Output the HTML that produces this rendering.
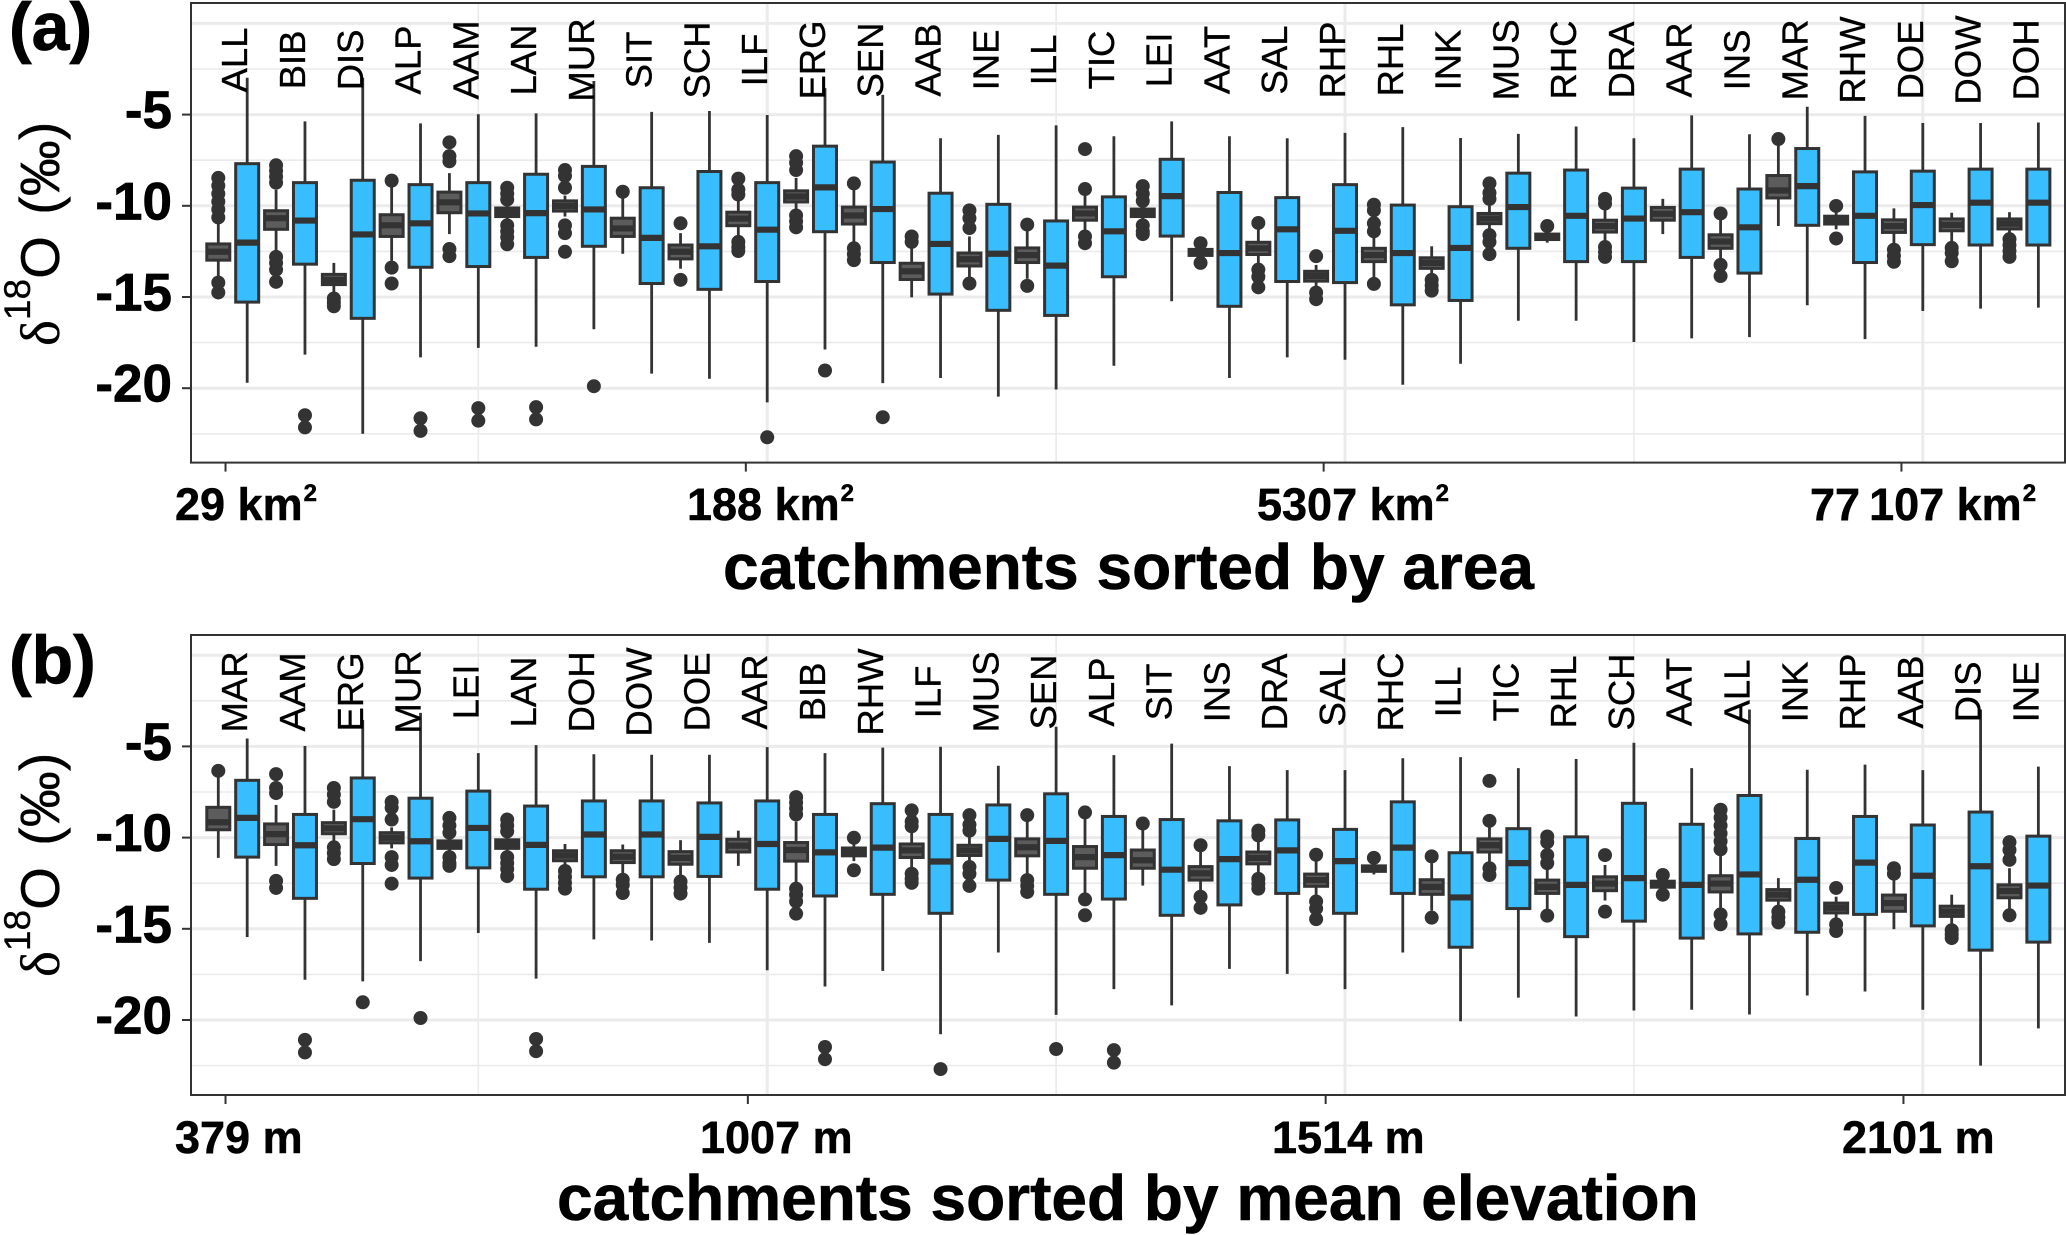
<!DOCTYPE html>
<html lang="en">
<head>
<meta charset="utf-8">
<title>Catchment isotope boxplots</title>
<style>
html,body{margin:0;padding:0;background:#fff;}
svg{display:block;}
text{font-family:"Liberation Sans",sans-serif;fill:#000;}
.tick-label{font-weight:700;font-size:53px;stroke:#000;stroke-width:.7px;}
.x-label{font-weight:700;font-size:45px;stroke:#000;stroke-width:.5px;}
.axis-title{font-weight:700;font-size:64px;stroke:#000;stroke-width:.6px;}
.panel-tag{font-weight:700;font-size:68px;stroke:#000;stroke-width:.8px;}
.y-title{font-size:55px;stroke:#000;stroke-width:.3px;}
.site{font-size:36.5px;stroke:#000;stroke-width:.35px;}
</style>
</head>
<body>
<svg id="chart" xmlns="http://www.w3.org/2000/svg" width="2066" height="1235" viewBox="0 0 2066 1235">
<rect x="0" y="0" width="2066" height="1235" fill="#ffffff"/>
<text class="panel-tag" x="9" y="50">(a)</text>
<text class="panel-tag" x="9" y="683">(b)</text>
<text class="y-title" transform="translate(59,346) rotate(-90)"><tspan style="font-family:'Liberation Serif',serif">δ</tspan><tspan font-size="37" dy="-29">18</tspan><tspan dy="29">O </tspan><tspan font-size="56" dx="6">(‰)</tspan></text>
<text class="y-title" transform="translate(59,977) rotate(-90)"><tspan style="font-family:'Liberation Serif',serif">δ</tspan><tspan font-size="37" dy="-29">18</tspan><tspan dy="29">O </tspan><tspan font-size="56" dx="6">(‰)</tspan></text>
<text class="axis-title" x="723" y="589">catchments sorted by area</text>
<text class="axis-title" x="557" y="1220">catchments sorted by mean elevation</text>
</svg>
<script>
const catchments = ["ALL","BIB","DIS","ALP","AAM","LAN","MUR","SIT","SCH","ILF","ERG","SEN","AAB","INE","ILL","TIC","LEI","AAT","SAL","RHP","RHL","INK","MUS","RHC","DRA","AAR","INS","MAR","RHW","DOE","DOW","DOH"];
const orderByElevation = ["MAR","AAM","ERG","MUR","LEI","LAN","DOH","DOW","DOE","AAR","BIB","RHW","ILF","MUS","SEN","ALP","SIT","INS","DRA","SAL","RHC","ILL","TIC","RHL","SCH","AAT","ALL","INK","RHP","AAB","DIS","INE"];

const greyUpper = [-12.09,-10.27,-13.76,-10.49,-9.25,-10.12,-9.73,-10.68,-12.15,-10.35,-9.18,-10.07,-13.15,-12.59,-12.31,-10.07,-10.18,-12.39,-12.0,-13.59,-12.33,-12.85,-10.42,-11.55,-10.79,-10.09,-11.59,-8.34,-10.57,-10.77,-10.72,-10.72];
const greyMedian = [-12.52,-10.68,-14.06,-11.07,-9.81,-10.35,-10.01,-11.24,-12.52,-10.7,-9.49,-10.53,-13.59,-12.93,-12.7,-10.42,-10.38,-12.54,-12.33,-13.85,-12.7,-13.13,-10.7,-11.7,-11.11,-10.44,-11.96,-9.16,-10.77,-11.11,-11.05,-10.98];
const greyLower = [-12.98,-11.29,-14.32,-11.68,-10.38,-10.59,-10.29,-11.68,-12.91,-11.09,-9.79,-11.0,-14.04,-13.3,-13.11,-10.79,-10.59,-12.72,-12.67,-14.13,-13.06,-13.43,-10.98,-11.85,-11.44,-10.79,-12.33,-9.57,-11.0,-11.46,-11.37,-11.27];
const greyWhiskerHigh = [-10.96,-9.12,-13.13,-8.9,-8.21,-9.88,-9.44,-9.55,-11.5,-9.55,-8.47,-9.12,-12.26,-11.68,-11.4,-9.34,-9.88,-12.26,-11.29,-13.24,-11.61,-12.22,-9.88,-11.4,-10.09,-9.62,-10.75,-6.63,-10.31,-10.14,-10.38,-10.35];
const greyWhiskerLow = [-13.89,-12.48,-14.76,-13.02,-11.55,-10.85,-10.59,-12.63,-13.45,-11.83,-10.31,-12.15,-15.02,-14.0,-14.0,-11.5,-10.85,-12.8,-13.24,-14.43,-14.0,-13.78,-11.4,-12.02,-12.15,-11.55,-12.91,-11.11,-11.29,-12.15,-11.94,-11.55];
const greyOutliers = [
[-8.47,-8.9,-9.34,-9.77,-10.2,-10.64,-14.21,-14.75],
[-7.78,-8.08,-8.4,-8.73,-12.8,-13.13,-13.5,-14.17],
[-15.08,-15.3,-15.51],
[-8.62,-13.39,-14.26],
[-6.52,-7.28,-7.56,-12.37,-12.76],
[-9.01,-9.34,-9.66,-11.07,-11.4,-11.72,-12.11],
[-8.04,-8.36,-9.01,-11.07,-11.5,-12.52],
[-9.23],
[-10.96,-14.06],
[-8.51,-9.12,-9.38,-11.98,-12.26,-12.48],
[-7.28,-7.64,-8.04,-10.53,-10.85,-11.18],
[-8.77,-12.33,-12.65,-12.98],
[-11.68,-11.98],
[-10.25,-10.68,-11.22,-14.26],
[-11.03,-14.39],
[-6.89,-9.08,-11.68,-12.05],
[-8.92,-9.34,-9.73,-11.07,-11.4,-11.55],
[-12.05,-13.13],
[-10.94,-13.5,-13.89,-14.47],
[-12.76,-14.76,-15.12],
[-9.94,-10.25,-10.96,-11.4,-14.28],
[-14.06,-14.37,-14.65],
[-8.77,-9.29,-9.62,-11.61,-11.98,-12.65],
[-11.11],
[-9.62,-9.88,-12.26,-12.54,-12.8],
[],
[-10.42,-13.24,-13.85],
[-6.34],
[-10.01,-11.79],
[-12.41,-12.74,-13.07],
[-12.31,-12.59,-13.04],
[-11.83,-12.15,-12.48,-12.8]
];

const blueUpper = [-7.69,-8.73,-8.6,-8.84,-8.73,-8.27,-7.84,-9.01,-8.12,-8.73,-6.73,-7.6,-9.31,-9.92,-10.83,-9.51,-7.45,-9.27,-9.55,-8.84,-9.96,-10.05,-8.21,-8.04,-9.03,-7.99,-9.08,-6.86,-8.14,-8.1,-7.99,-7.99];
const blueMedian = [-12.02,-10.81,-11.57,-10.96,-10.42,-10.4,-10.2,-11.76,-12.22,-11.31,-8.99,-10.18,-12.09,-12.63,-13.28,-11.4,-9.47,-12.59,-11.29,-11.37,-12.59,-12.31,-10.07,-10.55,-10.7,-10.35,-11.18,-8.92,-10.55,-9.96,-9.83,-9.83];
const blueLower = [-15.28,-13.2,-16.17,-13.37,-13.33,-12.83,-12.22,-14.26,-14.58,-14.15,-11.42,-13.11,-14.84,-15.73,-16.01,-13.89,-11.66,-15.51,-14.15,-14.21,-15.43,-15.19,-12.33,-13.06,-13.06,-12.83,-13.69,-11.07,-13.11,-12.13,-12.15,-12.15];
const blueWhiskerHigh = [-2.98,-5.37,-2.98,-5.48,-4.98,-4.93,-3.16,-4.85,-4.8,-5.02,-3.55,-3.92,-6.3,-6.11,-5.59,-6.19,-5.37,-6.19,-6.3,-6.0,-5.69,-6.28,-6.06,-5.65,-6.3,-5.04,-6.08,-4.57,-5.07,-5.46,-5.46,-5.43];
const blueWhiskerLow = [-19.7,-18.16,-22.5,-18.31,-17.79,-17.73,-16.77,-19.2,-19.48,-20.78,-17.88,-19.72,-19.44,-20.46,-20.07,-18.77,-15.23,-19.44,-18.31,-18.44,-19.81,-18.66,-16.3,-16.3,-17.47,-17.27,-17.2,-15.45,-17.31,-15.77,-15.64,-15.58];
const blueOutliers = [[],[-21.48,-22.15],[],[-21.65,-22.34],[-21.09,-21.78],[-21.04,-21.71],[-19.89],[],[],[-22.69],[-19.03],[-21.59],[],[],[],[],[],[],[],[],[],[],[],[],[],[],[],[],[],[],[],[]];

const yTickValues = [-5,-10,-15,-20];
const yTickLabels = ["-5","-10","-15","-20"];
const yMajorGrid = [0,-5,-10,-15,-20];
const yMinorGrid = [-2.5,-7.5,-12.5,-17.5,-22.5];
const xMajorGrid = [19,39,59];
const xMinorGrid = [9,29,49];
const xTickLabelsArea = ["29 km","188 km","5307 km","77\u2009107 km"];
const xTickLabelsElevation = ["379 m","1007 m","1514 m","2101 m"];

const NS = "http://www.w3.org/2000/svg";
const svg = document.getElementById("chart");

function mk(tag, attrs, parent){
  const el = document.createElementNS(NS, tag);
  for(const k in attrs){ el.setAttribute(k, attrs[k]); }
  parent.appendChild(el);
  return el;
}

function xAxis(i){ return 218.3 + i * 28.89; }

function drawPanel(cfg){
  const yAxis = v => cfg.y10 + (-10 - v) * 18.24;
  const g = mk("g", {}, svg);
  
  

  yMinorGrid.forEach(v => {
    const l = mk("line", {x1:cfg.left, x2:cfg.right, y1:yAxis(v), y2:yAxis(v), stroke:"#ebebeb", "stroke-width":1.6}, g);
    
    
  });
  xMinorGrid.forEach(u => {
    const l = mk("line", {x1:xAxis(u), x2:xAxis(u), y1:cfg.top, y2:cfg.bottom, stroke:"#ebebeb", "stroke-width":1.6}, g);
    
    
  });
  yMajorGrid.forEach(v => {
    const l = mk("line", {x1:cfg.left, x2:cfg.right, y1:yAxis(v), y2:yAxis(v), stroke:"#ebebeb", "stroke-width":3}, g);
    
    
  });
  xMajorGrid.forEach(u => {
    const l = mk("line", {x1:xAxis(u), x2:xAxis(u), y1:cfg.top, y2:cfg.bottom, stroke:"#ebebeb", "stroke-width":3}, g);
    
    
  });

  cfg.order.forEach((name, pos) => {
    const c = catchments.indexOf(name);
    const layers = [
      {kind:"grey", x:xAxis(pos*2), fill:"#5c5c5c", hi:greyWhiskerHigh[c], lo:greyWhiskerLow[c], up:greyUpper[c], dn:greyLower[c], md:greyMedian[c], out:greyOutliers[c]},
      {kind:"blue", x:xAxis(pos*2+1), fill:"#38bdff", hi:blueWhiskerHigh[c], lo:blueWhiskerLow[c], up:blueUpper[c], dn:blueLower[c], md:blueMedian[c], out:blueOutliers[c]}
    ];
    layers.forEach(b => {
      b.out.forEach(o => {
        const p = mk("circle", {cx:b.x, cy:yAxis(o), r:7, fill:"#333333"}, g);
        
        
      });
      const w = mk("line", {x1:b.x, x2:b.x, y1:yAxis(b.hi), y2:yAxis(b.lo), stroke:"#333333", "stroke-width":2.8}, g);
      
      
      const r = mk("rect", {x:b.x-11.5, width:23, y:yAxis(b.up), height:yAxis(b.dn)-yAxis(b.up), fill:b.fill, stroke:"#333333", "stroke-width":3}, g);
      
      
      const m = mk("line", {x1:b.x-11.5, x2:b.x+11.5, y1:yAxis(b.md), y2:yAxis(b.md), stroke:"#333333", "stroke-width":6.2}, g);
      
      
    });
    const t = mk("text", {class:"site", "text-anchor":"middle", transform:"translate(" + xAxis(pos*2+1) + "," + cfg.labelY + ") rotate(-90)"}, g);
    t.textContent = name;
    
    
  });

  const frame = mk("rect", {x:cfg.left, y:cfg.top, width:cfg.right-cfg.left, height:cfg.bottom-cfg.top, fill:"none", stroke:"#333333", "stroke-width":2}, g);
  
  

  yTickValues.forEach((v, i) => {
    const tk = mk("line", {x1:cfg.left-9, x2:cfg.left, y1:yAxis(v), y2:yAxis(v), stroke:"#333333", "stroke-width":2}, g);
    
    
    const lb = mk("text", {class:"tick-label", "text-anchor":"end", x:172, y:yAxis(v)+13.5}, g);
    lb.textContent = yTickLabels[i];
    
    
  });

  cfg.ticks.forEach((u, i) => {
    const tk = mk("line", {x1:xAxis(u), x2:xAxis(u), y1:cfg.bottom, y2:cfg.bottom+9, stroke:"#333333", "stroke-width":2}, g);
    
    
    const lb = mk("text", {class:"x-label", x:cfg.tickX[i], y:cfg.tickBase}, g);
    lb.textContent = cfg.labels[i];
    
    
    if(cfg.sup){
      const s = mk("tspan", {"font-size":"24", dy:"-19", dx:"1"}, lb);
      s.textContent = cfg.sup;
      
      
    }
  });
}

drawPanel({id:"panel-a", order:catchments, top:3, bottom:462.6, left:191, right:2065, y10:205.8, labelY:60,
  ticks:[0.25,18.26,38.26,58.26], tickX:[175,687,1257,1810], tickBase:520, labels:xTickLabelsArea, sup:"2"});
drawPanel({id:"panel-b", order:orderByElevation, top:635, bottom:1095, left:191, right:2065, y10:837.6, labelY:692,
  ticks:[0.25,18.33,38.33,58.33], tickX:[175,700,1272,1842], tickBase:1153, labels:xTickLabelsElevation, sup:""});
</script>
</body>
</html>
